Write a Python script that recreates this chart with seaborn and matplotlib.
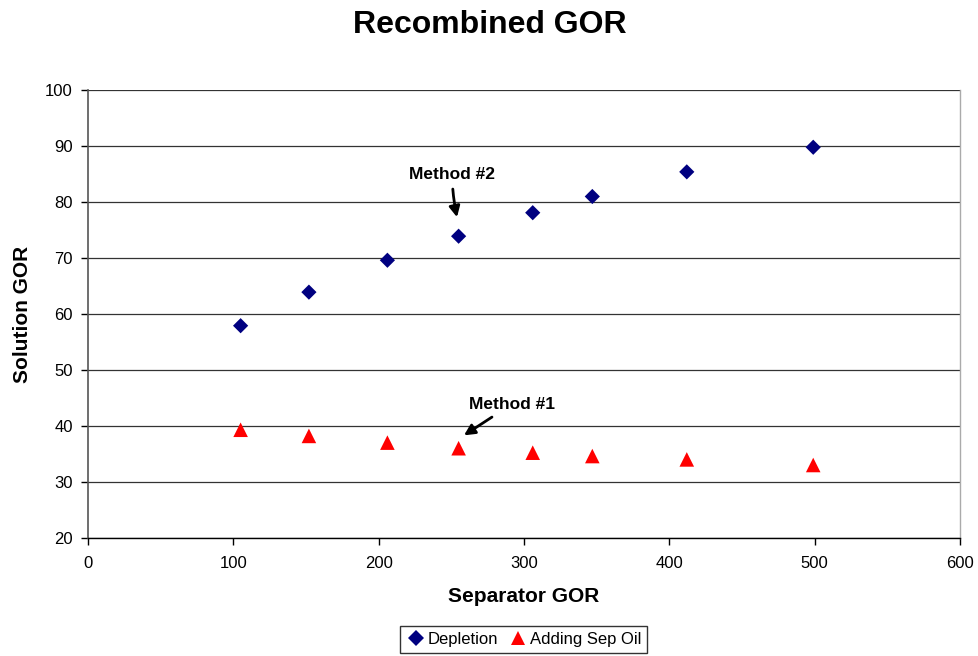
import matplotlib
matplotlib.use("Agg")
import matplotlib.pyplot as plt
import seaborn as sns
import pandas as pd

sep_gor = [105, 152, 206, 255, 306, 347, 412, 499]
depletion = [57.9, 63.9, 69.6, 73.9, 78.1, 81.0, 85.4, 89.8]
adding_sep_oil = [39.3, 38.2, 37.0, 36.0, 35.2, 34.6, 34.0, 33.0]
series_names = ["Depletion", "Adding Sep Oil"]

df = pd.DataFrame({
    "Separator GOR": sep_gor * 2,
    "Solution GOR": depletion + adding_sep_oil,
    "Series": [series_names[0]] * len(sep_gor) + [series_names[1]] * len(sep_gor),
})

sns.set_style("white")
plt.rcParams["font.family"] = ["Liberation Sans", "DejaVu Sans"]
plt.rcParams["text.color"] = "black"
plt.rcParams["axes.labelcolor"] = "black"
plt.rcParams["xtick.color"] = "black"
plt.rcParams["ytick.color"] = "black"

fig = plt.figure(figsize=(9.79, 6.56), dpi=100)
ax = fig.add_axes([0.0899, 0.1803, 0.8907, 0.6822])

sns.scatterplot(
    data=df, x="Separator GOR", y="Solution GOR", hue="Series", style="Series",
    size="Series",
    palette={"Depletion": "#000080", "Adding Sep Oil": "#FF0000"},
    markers={"Depletion": "D", "Adding Sep Oil": "^"},
    sizes={"Depletion": 60, "Adding Sep Oil": 110},
    linewidth=0, ax=ax, zorder=3,
)

ax.set_xlim(0, 600)
ax.set_ylim(20, 100)
ax.set_xticks(range(0, 601, 100))
ax.set_yticks(range(20, 101, 10))
ax.yaxis.grid(True, color="#333333", linewidth=0.9)
ax.xaxis.grid(False)
ax.set_axisbelow(True)

ax.spines["top"].set_visible(False)
ax.spines["left"].set_color("#555555")
ax.spines["left"].set_linewidth(1.2)
ax.spines["bottom"].set_color("black")
ax.spines["bottom"].set_linewidth(1.0)
ax.spines["right"].set_color("#aaaaaa")
ax.spines["right"].set_linewidth(1.0)

ax.tick_params(axis="both", which="major", direction="out", length=5, width=1,
               color="black", labelsize=12, bottom=True, left=True)
ax.tick_params(axis="x", pad=8)
ax.tick_params(axis="y", pad=6)

ax.set_xlabel("Separator GOR", fontsize=15, fontweight="bold", labelpad=12)
ax.set_ylabel("Solution GOR", fontsize=15, fontweight="bold", labelpad=9)

fig.suptitle("Recombined GOR", x=0.5, y=0.985, fontsize=23, fontweight="bold", va="top")

ax.annotate("Method #2", xy=(253.9, 77.3), xytext=(250.5, 85.0),
            fontsize=12.5, fontweight="bold", ha="center", va="center",
            arrowprops=dict(arrowstyle="-|>", color="black", lw=2,
                            mutation_scale=16, shrinkA=3, shrinkB=0,
                            connectionstyle="arc3,rad=0.05"))
ax.annotate("Method #1", xy=(258.7, 38.3), xytext=(291.7, 43.9),
            fontsize=12.5, fontweight="bold", ha="center", va="center",
            arrowprops=dict(arrowstyle="-|>", color="black", lw=2,
                            mutation_scale=16, shrinkA=3, shrinkB=0))

handles, labels = ax.get_legend_handles_labels()
ax.legend_.remove()
leg = fig.legend(handles, labels, loc="center", bbox_to_anchor=(0.5345, 0.0255),
                 ncol=2, frameon=True, fontsize=12, handletextpad=0.1,
                 columnspacing=0.6, borderpad=0.35, handlelength=1.2,
                 fancybox=False)
leg.get_frame().set_edgecolor("black")
leg.get_frame().set_linewidth(1.0)

fig.savefig("out.png", dpi=100)
